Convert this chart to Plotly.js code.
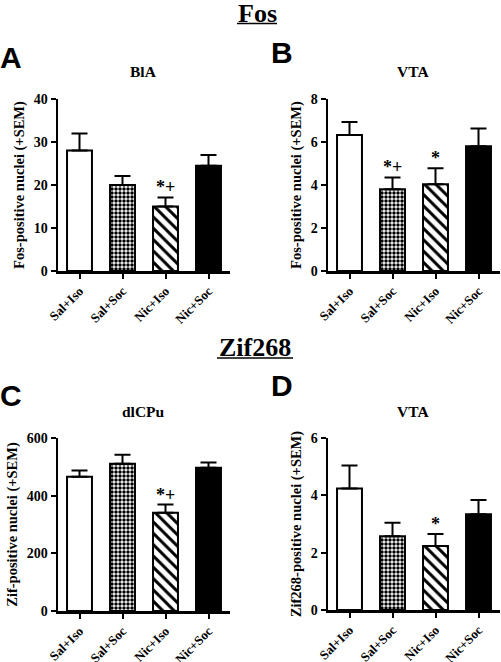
<!DOCTYPE html>
<html><head><meta charset="utf-8">
<script src="https://cdn.plot.ly/plotly-3.0.1.min.js"></script>
<style>html,body{margin:0;padding:0;background:#fff}#chart{width:501px;height:662px}</style>
</head><body><div id="chart"></div>
<script>
const categories = ["Sal+Iso", "Sal+Soc", "Nic+Iso", "Nic+Soc"];
const fosBlaMean = [28, 20, 15, 24.5];
const fosBlaSem = [4, 2.1, 2.1, 2.5];
const fosBlaSig = ["", "", "*+", ""];
const fosVtaMean = [6.33, 3.8, 4.03, 5.8];
const fosVtaSem = [0.6, 0.55, 0.75, 0.83];
const fosVtaSig = ["", "*+", "*", ""];
const zifDlcpuMean = [466, 511, 341, 497];
const zifDlcpuSem = [21, 31, 28, 18];
const zifDlcpuSig = ["", "", "*+", ""];
const zifVtaMean = [4.24, 2.57, 2.23, 3.34];
const zifVtaSem = [0.8, 0.47, 0.42, 0.5];
const zifVtaSig = ["", "", "*", ""];

const W = 501, H = 662;
const SERIF = "Liberation Serif, Times New Roman, serif";
const SANS = "Liberation Sans, Arial, sans-serif";
const px = x => x / W;
const py = y => 1 - y / H;

// bar styles per group
const barStyles = [
  {color: "#fff", pattern: null},
  {color: "#fff", pattern: {shape: ".", size: 4, solidity: 0.6}},
  {color: "#fff", pattern: {shape: "\\", size: 8, solidity: 0.38}},
  {color: "#000", pattern: null}
];

const panels = [
  {mean: fosBlaMean, sem: fosBlaSem, sig: fosBlaSig, range: [0, 40], dtick: 10,
   xd: [58, 230], yd: [271, 99], ytitle: "Fos-positive nuclei (+SEM)", title: "BlA", letter: "A", lx: 11, ly: 57, ty: 72},
  {mean: fosVtaMean, sem: fosVtaSem, sig: fosVtaSig, range: [0, 8], dtick: 2,
   xd: [328, 500], yd: [271, 99], ytitle: "Fos-positive nuclei (+SEM)", title: "VTA", letter: "B", lx: 282, ly: 52, ty: 72},
  {mean: zifDlcpuMean, sem: zifDlcpuSem, sig: zifDlcpuSig, range: [0, 600], dtick: 200,
   xd: [58, 230], yd: [611, 438], ytitle: "Zif-positive nuclei (+SEM)", title: "dlCPu", letter: "C", lx: 11, ly: 395, ty: 411},
  {mean: zifVtaMean, sem: zifVtaSem, sig: zifVtaSig, range: [0, 6], dtick: 2,
   xd: [328, 500], yd: [610, 438], ytitle: "Zif268-positive nuclei (+SEM)", title: "VTA", letter: "D", lx: 282, ly: 385, ty: 411}
];

const data = [];
const layout = {
  width: W, height: H, margin: {l: 0, r: 0, t: 0, b: 0},
  paper_bgcolor: "#fff", plot_bgcolor: "#fff", showlegend: false,
  barmode: "overlay", annotations: [], shapes: []
};

panels.forEach((p, i) => {
  const n = i + 1;
  const xa = "x" + (n === 1 ? "" : n), ya = "y" + (n === 1 ? "" : n);
  categories.forEach((c, k) => {
    const st = barStyles[k];
    const marker = {color: st.color, line: {color: "#000", width: 2}};
    if (st.pattern) marker.pattern = Object.assign({fgcolor: "#000", bgcolor: "#fff", fillmode: "replace"}, st.pattern);
    data.push({
      type: "bar", x: [c], y: [p.mean[k]], xaxis: xa, yaxis: ya, width: 0.58,
      marker: marker,
      error_y: {type: "data", symmetric: false, array: [p.sem[k]], arrayminus: [0],
        color: "#000", thickness: 2, width: 8},
      hoverinfo: "none"
    });
  });
  layout["xaxis" + (n === 1 ? "" : n)] = {
    domain: [px(p.xd[0]), px(p.xd[1])], anchor: ya, range: [-0.5, 3.5], type: "category",
    categoryorder: "array", categoryarray: categories,
    showline: true, linewidth: 2.5, linecolor: "#000", ticks: "outside", ticklen: 5, tickwidth: 2, tickcolor: "#000",
    tickangle: -45, tickfont: {family: SERIF, size: 13, color: "#000", weight: "bold"},
    showgrid: false, zeroline: false, fixedrange: true
  };
  layout["yaxis" + (n === 1 ? "" : n)] = {
    domain: [py(p.yd[0]), py(p.yd[1])], anchor: xa, range: p.range, dtick: p.dtick,
    showline: true, linewidth: 2.5, linecolor: "#000", ticks: "outside", ticklen: 5, tickwidth: 2, tickcolor: "#000",
    tickfont: {family: SERIF, size: 14, color: "#000", weight: "bold"}, showgrid: false, zeroline: false, fixedrange: true,
    title: {text: p.ytitle, font: {family: SERIF, size: 14.5, color: "#000", weight: "bold"}, standoff: 6}
  };
  layout.annotations.push({xref: "paper", yref: "paper", x: px((p.xd[0] + p.xd[1]) / 2 - 1), y: py(p.ty),
    text: "<b>" + p.title + "</b>", showarrow: false, font: {family: SERIF, size: 15.5, color: "#000"}, xanchor: "center", yanchor: "middle"});
  layout.annotations.push({xref: "paper", yref: "paper", x: px(p.lx), y: py(p.ly),
    text: "<b>" + p.letter + "</b>", showarrow: false, font: {family: SANS, size: 30, color: "#000"}, xanchor: "center", yanchor: "middle"});
  p.sig.forEach((s, k) => {
    if (!s) return;
    layout.annotations.push({xref: xa, yref: ya, x: categories[k], y: p.mean[k] + p.sem[k],
      text: "<b>" + s + "</b>", showarrow: false, yanchor: "bottom", yshift: -2,
      font: {family: SERIF, size: 18, color: "#000"}});
  });
});

layout.annotations.push({xref: "paper", yref: "paper", x: px(257), y: py(13), text: "<b>Fos</b>", showarrow: false,
  font: {family: SERIF, size: 26, color: "#000"}, xanchor: "center", yanchor: "middle"});
layout.annotations.push({xref: "paper", yref: "paper", x: px(255), y: py(347), text: "<b>Zif268</b>", showarrow: false,
  font: {family: SERIF, size: 26, color: "#000"}, xanchor: "center", yanchor: "middle"});
layout.shapes.push({type: "line", xref: "paper", yref: "paper", x0: px(237), x1: px(277), y0: py(23.5), y1: py(23.5), line: {color: "#000", width: 1.5}});
layout.shapes.push({type: "line", xref: "paper", yref: "paper", x0: px(217), x1: px(293), y0: py(358), y1: py(358), line: {color: "#000", width: 1.5}});

Plotly.newPlot("chart", data, layout, {staticPlot: true, displayModeBar: false});
</script></body></html>
